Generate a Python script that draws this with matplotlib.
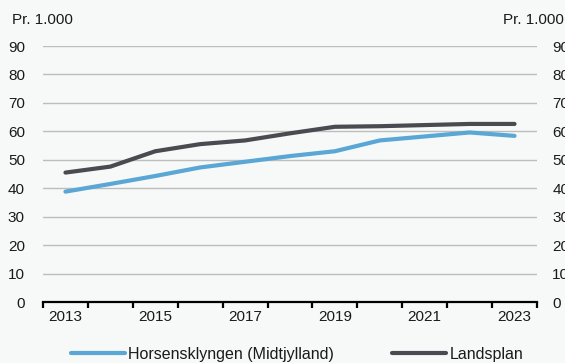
import matplotlib
matplotlib.use("Agg")
import matplotlib.pyplot as plt
import numpy as np

years = [2013, 2014, 2015, 2016, 2017, 2018, 2019, 2020, 2021, 2022, 2023]
horsens = [38.8, 41.5, 44.3, 47.3, 49.3, 51.3, 53.0, 56.8, 58.2, 59.6, 58.4]
landsplan = [45.5, 47.6, 53.0, 55.5, 56.8, 59.3, 61.6, 61.8, 62.2, 62.6, 62.6]
yticks = [0, 10, 20, 30, 40, 50, 60, 70, 80, 90]
series_names = ["Horsensklyngen (Midtjylland)", "Landsplan"]
unit_label = "Pr. 1.000"

plt.rcParams['font.family'] = ['Liberation Sans', 'DejaVu Sans']
bg = '#f7f8f8'
W, H = 565, 363
fig = plt.figure(figsize=(W / 100, H / 100), dpi=100, facecolor=bg)

left, right, bottom, top = 43, 537, 302, 46
ax = fig.add_axes([left / W, 1 - bottom / H, (right - left) / W, (bottom - top) / H])
ax.set_facecolor(bg)

x = np.arange(len(years))
l1, = ax.plot(x, horsens, color='#5aa7d5', lw=3, solid_capstyle='round', zorder=3)
l2, = ax.plot(x, landsplan, color='#4a4b50', lw=3, solid_capstyle='round', zorder=3)

ax.set_xlim(-0.5, len(years) - 0.5)
ax.set_ylim(0, 90)
ax.set_yticks(yticks)
ax.grid(axis='y', color='#bdbdbd', lw=1)
ax.set_axisbelow(True)
for s in ['top', 'right', 'left']:
    ax.spines[s].set_visible(False)
ax.spines['bottom'].set_color('black')
ax.spines['bottom'].set_linewidth(1.6)
ax.spines['bottom'].set_zorder(4)

ax.set_xticks(np.arange(-0.5, len(years), 1.0))
ax.set_xticklabels([])
ax.tick_params(axis='x', which='major', length=4, width=1.6, color='black', direction='out')
ax.set_xticks(x[::2], minor=True)
ax.set_xticklabels([str(y) for y in years[::2]], minor=True)
ax.tick_params(axis='x', which='minor', length=0, pad=6, labelsize=11, labelcolor='#1a1a1a')
ax.tick_params(axis='y', length=0, pad=13, labelsize=11, labelcolor='#1a1a1a')

ax2 = ax.twinx()
ax2.set_ylim(0, 90)
ax2.set_yticks(yticks)
ax2.tick_params(axis='y', length=0, pad=11, labelsize=11, labelcolor='#1a1a1a')
for s in ['top', 'right', 'left', 'bottom']:
    ax2.spines[s].set_visible(False)

fig.text(12 / W, 1 - 20 / H, unit_label, fontsize=11, color='#1a1a1a', ha='left', va='center')
fig.text(503 / W, 1 - 20 / H, unit_label, fontsize=11, color='#1a1a1a', ha='left', va='center')

fig.legend([l1, l2], series_names, loc='center', bbox_to_anchor=(297 / W, 1 - 354 / H),
           ncol=2, frameon=False, fontsize=11.5, handlelength=3.4, handletextpad=0.2,
           columnspacing=3.6, labelcolor='#1a1a1a')

fig.savefig('out.png', dpi=100, facecolor=bg)
